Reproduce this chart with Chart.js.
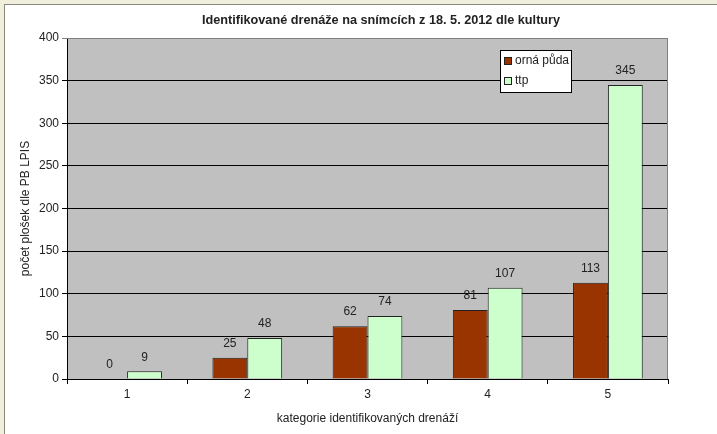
<!DOCTYPE html>
<html>
<head>
<meta charset="utf-8">
<script src="https://cdn.jsdelivr.net/npm/chart.js@4"></script>
<style>
  body { margin: 0; background: #efefdc; }
  #wrap {
    position: absolute; left: 4px; top: 4px; width: 713px; height: 430px;
    background: #fff; border-left: 1px solid #8a8a80; border-top: 1px solid #8a8a80;
  }
  canvas { display: block; }
</style>
</head>
<body>
<div id="wrap"><canvas id="chart" width="712" height="429"></canvas></div>
<script>
const chartTitle = "Identifikované drenáže na snímcích z 18. 5. 2012 dle kultury";
const categories = ["1", "2", "3", "4", "5"];
const ornaPuda = [0, 25, 62, 81, 113];
const ttp = [9, 48, 74, 107, 345];
const yTicks = [0, 50, 100, 150, 200, 250, 300, 350, 400];

const FONT = "Arial, 'Liberation Sans', sans-serif";
const TEXT = "#222";

// gray plot area + borders on the right and top
const plotBackground = {
  id: "plotBackground",
  beforeDraw(chart) {
    const { ctx, chartArea: a } = chart;
    ctx.save();
    ctx.fillStyle = "#c0c0c0";
    ctx.fillRect(a.left, a.top, a.right - a.left, a.bottom - a.top);
    ctx.restore();
  },
  beforeDatasetsDraw(chart) {
    const { ctx, chartArea: a } = chart;
    ctx.save();
    ctx.strokeStyle = "#808080";
    ctx.lineWidth = 1;
    ctx.beginPath();
    ctx.moveTo(a.left, a.top + 0.5);
    ctx.lineTo(a.right - 0.5, a.top + 0.5);
    ctx.lineTo(a.right - 0.5, a.bottom);
    ctx.stroke();
    ctx.restore();
  }
};

// values above the bars + title + legend box
const extras = {
  id: "extras",
  afterDatasetsDraw(chart) {
    const { ctx } = chart;
    ctx.save();
    ctx.font = "12px " + FONT;
    ctx.fillStyle = TEXT;
    ctx.textAlign = "center";
    ctx.textBaseline = "middle";
    chart.data.datasets.forEach((ds, i) => {
      chart.getDatasetMeta(i).data.forEach((bar, j) => {
        ctx.fillText(String(ds.data[j]), bar.x, bar.y - 14);
      });
    });

    // title
    ctx.font = "bold 12.7px " + FONT;
    ctx.fillText(chartTitle, 376, 15);

    // legend
    const lx = 495, ly = 45, lw = 71, lh = 42;
    ctx.fillStyle = "#fff";
    ctx.fillRect(lx, ly, lw, lh);
    ctx.strokeStyle = "#000";
    ctx.lineWidth = 1;
    ctx.strokeRect(lx + 0.5, ly + 0.5, lw, lh);
    ctx.font = "12px " + FONT;
    ctx.textAlign = "left";
    chart.data.datasets.forEach((ds, i) => {
      const cy = ly + 11 + i * 20;
      ctx.fillStyle = ds.backgroundColor;
      ctx.fillRect(lx + 4, cy - 4, 7, 7);
      ctx.strokeStyle = "#222";
      ctx.strokeRect(lx + 4.5, cy - 3.5, 7, 7);
      ctx.fillStyle = TEXT;
      ctx.fillText(ds.label, lx + 15, cy);
    });
    ctx.restore();
  }
};

new Chart(document.getElementById("chart"), {
  type: "bar",
  data: {
    labels: categories,
    datasets: [
      {
        label: "orná půda",
        data: ornaPuda,
        backgroundColor: "#993300",
        borderColor: "#222",
        borderWidth: 1,
        categoryPercentage: 0.58,
        barPercentage: 1.0
      },
      {
        label: "ttp",
        data: ttp,
        backgroundColor: "#ccffcc",
        borderColor: "#222",
        borderWidth: 1,
        categoryPercentage: 0.58,
        barPercentage: 1.0
      }
    ]
  },
  options: {
    responsive: false,
    animation: false,
    layout: { padding: { top: 33, right: 49, left: 0, bottom: 0 } },
    plugins: {
      legend: { display: false },
      title: { display: false },
      tooltip: { enabled: false }
    },
    scales: {
      x: {
        grid: {
          offset: true,
          drawOnChartArea: false,
          drawTicks: true,
          tickLength: 5,
          color: "#000"
        },
        border: { color: "#000" },
        ticks: { color: TEXT, font: { family: FONT, size: 12 }, padding: 3 },
        title: {
          display: true,
          text: "kategorie identifikovaných drenáží",
          color: TEXT,
          font: { family: FONT, size: 12 },
          padding: { top: 0, bottom: 8 }
        },
        afterFit(scale) { scale.height = 55; }
      },
      y: {
        min: 0,
        max: 400,
        afterBuildTicks(scale) { scale.ticks = yTicks.map(v => ({ value: v })); },
        grid: {
          color: ctx => (ctx.tick && ctx.tick.value === 400 ? "#808080" : "#000"),
          tickLength: 5
        },
        border: { color: "#000" },
        ticks: { color: TEXT, font: { family: FONT, size: 12 }, padding: 3 },
        title: {
          display: true,
          text: "počet plošek dle PB LPIS",
          color: TEXT,
          font: { family: FONT, size: 12 },
          padding: { top: 13, bottom: 0 }
        },
        afterFit(scale) { scale.width = 62; }
      }
    }
  },
  plugins: [plotBackground, extras]
});
</script>
</body>
</html>
